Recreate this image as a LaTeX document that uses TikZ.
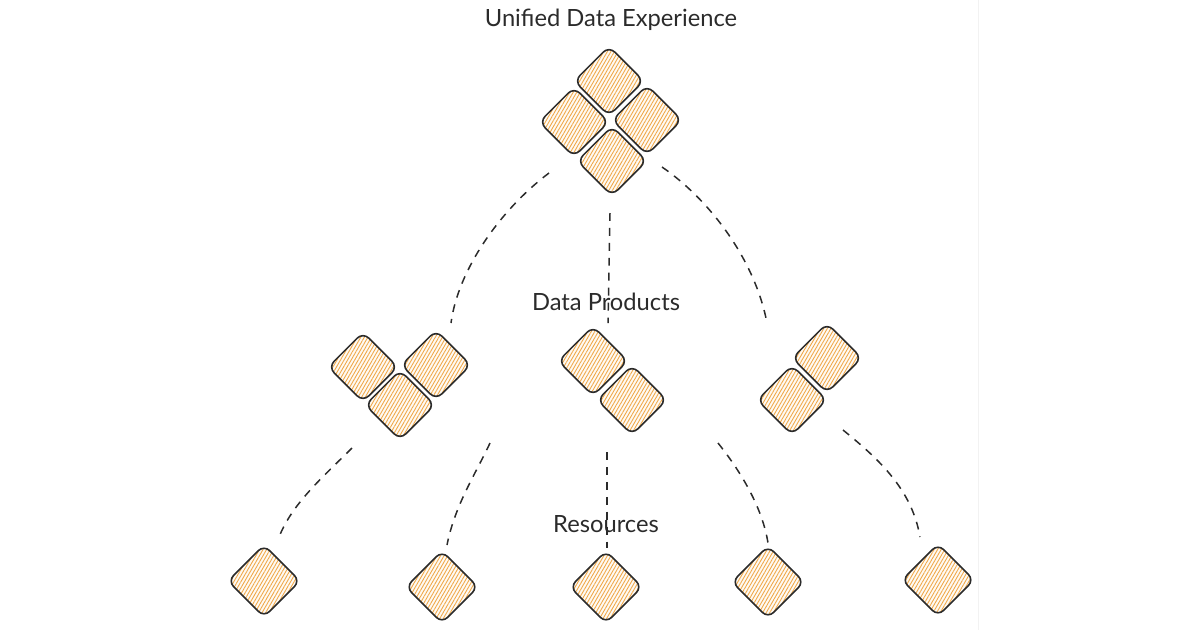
\documentclass[tikz,border=0pt]{standalone}
\usepackage{fontspec}
\setmainfont{Lato}
\usepackage{xcolor}
\usepackage{tikz}
\usetikzlibrary{calc, patterns.meta, positioning}
\definecolor{hatch}{HTML}{F0A848}
\definecolor{ink}{HTML}{2B2B2B}
\tikzset{
    tilenode/.style = {draw=ink, rectangle, rounded corners=0.16cm, minimum size=0.98cm, inner sep=0em,
      rotate=45, line width=0.9pt, preaction={fill=hatch!6},
      pattern={Lines[angle=60, distance=1.75pt, line width=0.5pt]}, pattern color=hatch},
    restilenode/.style = {tilenode, minimum size=1.02cm},
    textnode/.style  = {draw=none, fill=none, rectangle, inner sep=0em, text=ink,
      font=\fontsize{13.5}{16}\selectfont},
    link/.style = {ink, line width=0.85pt, dash pattern=on 4.5pt off 4pt}
}

\begin{document}
\begin{tikzpicture}[x=0.02cm, y=-0.02cm]
    \useasboundingbox (0,0) rectangle (1200,630);
    \draw[black!5] (978,0) -- (978,630);

    \node [textnode, name=unified, at={(611,20)}] {Unified Data Experience};
    \node [textnode, name=products, at={(606,302)}] {Data Products};
    \node [textnode, name=resources, at={(606,524)}] {Resources};

    % unified data experience
    \node [tilenode, name=ux1, at={(609,81)}] {};
    \node [tilenode, name=ux2, at={(574,122)}] {};
    \node [tilenode, name=ux3, at={(647,120)}] {};
    \node [tilenode, name=ux4, at={(612,161)}] {};

    % data products
    \node [tilenode, name=dpA1, at={(363,367)}] {};
    \node [tilenode, name=dpA2, at={(436,365)}] {};
    \node [tilenode, name=dpA3, at={(400,405)}] {};
    \node [tilenode, name=dpB1, at={(593,361)}] {};
    \node [tilenode, name=dpB2, at={(632,400)}] {};
    \node [tilenode, name=dpC1, at={(827,358)}] {};
    \node [tilenode, name=dpC2, at={(792,400)}] {};

    % resources
    \node [restilenode, name=res1, at={(264,581)}] {};
    \node [restilenode, name=res2, at={(442,587)}] {};
    \node [restilenode, name=res3, at={(606,587)}] {};
    \node [restilenode, name=res4, at={(768,582)}] {};
    \node [restilenode, name=res5, at={(938,580)}] {};

    \draw[link] ($(ux2)+(-25,51)$) .. controls +(-49,37) and +(7,-53) .. ($(dpA2)+(15,-42)$);
    \draw[link] ($(ux4)+(-2,52)$) -- ($(dpB1)+(15,-38)$);
    \draw[link] ($(ux3)+(15,47)$) .. controls +(48,33) and +(-12,-63) .. ($(dpC1)+(-60,-35)$);

    \draw[link] ($(dpA1)+(-11,81)$) .. controls +(-27,27) and +(12,-35) .. ($(res1)+(14,-41)$);
    \draw[link] ($(dpA2)+(54,78)$) .. controls +(-15,32) and +(8,-40) .. ($(res2)+(5,-42)$);
    \draw[link] ($(dpB2)+(-25,52)$) -- ($(res3)+(1,-39)$);
    \draw[link] ($(dpB2)+(86,43)$) .. controls +(20,25) and +(-6,-38) .. ($(res4)+(0,-39)$);
    \draw[link] ($(dpC1)+(16,72)$) .. controls +(37,30) and +(-8,-47) .. ($(res5)+(-18,-43)$);
\end{tikzpicture}
\end{document}
